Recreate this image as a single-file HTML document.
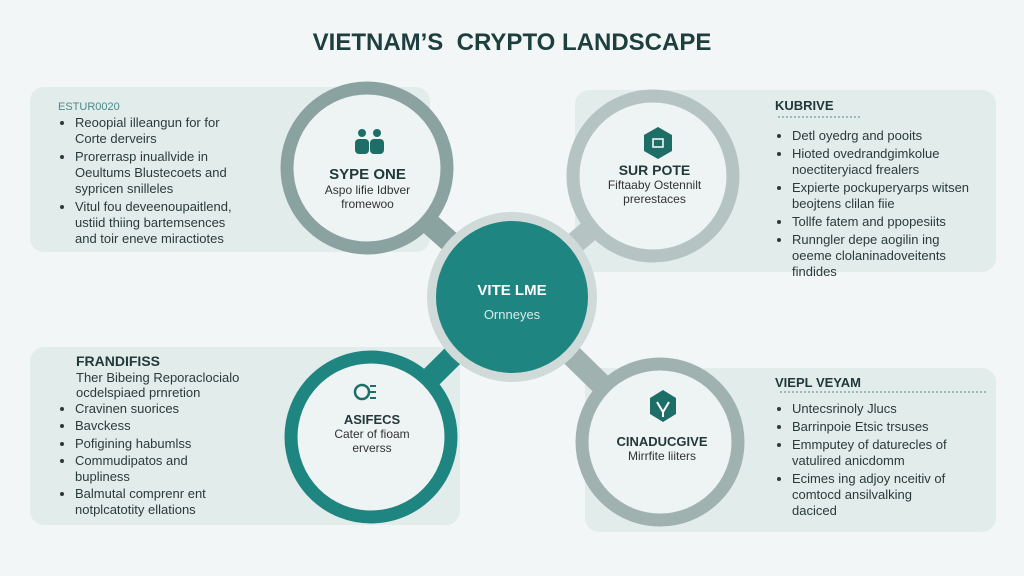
<!DOCTYPE html>
<html><head><meta charset="utf-8"><style>
body{margin:0;width:1024px;height:576px;background:#f3f6f6;font-family:"Liberation Sans",sans-serif;position:relative;overflow:hidden}
.a{position:absolute}
.panel{position:absolute;background:#e2eceb;border-radius:14px}
.t{position:absolute;font-size:13px;color:#2a3a3a;line-height:16px}
ul{margin:0;padding-left:17px}
li{margin-bottom:2px}
.h{font-weight:bold;font-size:14px;color:#213a39}
</style></head><body>
<div class="a" style="left:0;width:1024px;top:29px;text-align:center;font-size:24px;font-weight:bold;color:#1d3f3e">VIETNAM’S&nbsp; CRYPTO LANDSCAPE</div>

<div class="panel" style="left:30px;top:87px;width:400px;height:165px"></div>
<div class="panel" style="left:575px;top:90px;width:421px;height:182px"></div>
<div class="panel" style="left:30px;top:347px;width:430px;height:178px"></div>
<div class="panel" style="left:585px;top:368px;width:411px;height:164px"></div>

<svg class="a" style="left:0;top:0" width="1024" height="576">
<line x1="367" y1="168" x2="512" y2="297" stroke="#8aa3a0" stroke-width="22"/>
<line x1="653" y1="176" x2="512" y2="297" stroke="#b5c4c2" stroke-width="22"/>
<line x1="371" y1="437" x2="512" y2="297" stroke="#1e8580" stroke-width="22"/>
<line x1="660" y1="442" x2="512" y2="297" stroke="#9fb2b0" stroke-width="22"/>
<circle cx="512" cy="297" r="85" fill="#cfdad9"/>
<circle cx="512" cy="297" r="76" fill="#1e8580"/>
<circle cx="367" cy="168" r="80" fill="#eef3f3" stroke="#8aa3a0" stroke-width="13"/>
<circle cx="653" cy="176" r="80" fill="#eef3f3" stroke="#b5c4c2" stroke-width="13"/>
<circle cx="371" cy="437" r="80" fill="#eef3f3" stroke="#1e8580" stroke-width="13"/>
<circle cx="660" cy="442" r="78" fill="#eef3f3" stroke="#9fb2b0" stroke-width="13"/>
<circle cx="362" cy="133" r="4" fill="#1e6e68"/><circle cx="377" cy="133" r="4" fill="#1e6e68"/>
<rect x="355" y="139" width="14" height="15" rx="4" fill="#1e6e68"/><rect x="370" y="139" width="14" height="15" rx="4" fill="#1e6e68"/>
<polygon points="658,127 672,135 672,151 658,159 644,151 644,135" fill="#1e6e68"/>
<rect x="653" y="139" width="10" height="8" fill="none" stroke="#fff" stroke-width="1.5"/>
<polygon points="663,390 676,398 676,414 663,422 650,414 650,398" fill="#1e6e68"/>
<path d="M657,402 L663,412 L669,402 M663,412 V417" stroke="#fff" stroke-width="2" fill="none"/>
<circle cx="362" cy="392" r="7" fill="none" stroke="#1e6e68" stroke-width="2.5"/>
<path d="M370,386 h6 M370,392 h6 M370,398 h6" stroke="#1e6e68" stroke-width="2"/>
<line x1="778" y1="117" x2="860" y2="117" stroke="#4a8a86" stroke-dasharray="2 2"/>
<line x1="780" y1="392" x2="988" y2="392" stroke="#4a8a86" stroke-dasharray="2 2"/>
</svg>

<div class="a" style="left:285px;top:166px;width:165px;text-align:center"><div class="h" style="font-size:15px">SYPE ONE</div><div style="font-size:12px;color:#333">Aspo lifie Idbver<br>fromewoo</div></div>
<div class="a" style="left:572px;top:162px;width:165px;text-align:center"><div class="h">SUR POTE</div><div style="font-size:12px;color:#333">Fiftaaby Ostennilt<br>prerestaces</div></div>
<div class="a" style="left:430px;top:282px;width:164px;text-align:center;color:#fff"><div style="font-weight:bold;font-size:15px">VITE LME</div><div style="font-size:13px;color:#d6ecea;margin-top:8px">Ornneyes</div></div>
<div class="a" style="left:290px;top:412px;width:164px;text-align:center"><div class="h" style="font-size:13px">ASIFECS</div><div style="font-size:12px;color:#333">Cater of fioam<br>erverss</div></div>
<div class="a" style="left:580px;top:434px;width:164px;text-align:center"><div class="h" style="font-size:13px">CINADUCGIVE</div><div style="font-size:12px;color:#333">Mirrfite liiters</div></div>

<div class="t" style="left:58px;top:99px"><div style="font-size:11px;color:#4a8a86">ESTUR0020</div>
<ul><li>Reoopial illeangun for for<br>Corte derveirs</li><li>Prorerrasp inuallvide in<br>Oeultums Blustecoets and<br>sypricen snilleles</li><li>Vitul fou deveenoupaitlend,<br>ustiid thiing bartemsences<br>and toir eneve miractiotes</li></ul></div>

<div class="t" style="left:775px;top:98px"><div class="h" style="font-size:13px">KUBRIVE</div>
<ul style="margin-top:14px"><li>Detl oyedrg and pooits</li><li>Hioted ovedrandgimkolue<br>noectiteryiacd frealers</li><li>Expierte pockuperyarps witsen<br>beojtens clilan fiie</li><li>Tollfe fatem and ppopesiits</li><li>Runngler depe aogilin ing<br>oeeme clolaninadoveitents<br>findides</li></ul></div>

<div class="t" style="left:58px;top:354px;line-height:15.5px"><div class="h" style="padding-left:18px">FRANDIFISS</div>
<div style="padding-left:18px">Ther Bibeing Reporaclocialo<br>ocdelspiaed prnretion</div>
<ul><li>Cravinen suorices</li><li>Bavckess</li><li>Pofigining habumlss</li><li>Commudipatos and<br>bupliness</li><li>Balmutal comprenr ent<br>notplcatotity ellations</li></ul></div>

<div class="t" style="left:775px;top:375px"><div class="h" style="font-size:13px">VIEPL VEYAM</div>
<ul style="margin-top:10px"><li>Untecsrinoly Jlucs</li><li>Barrinpoie Etsic trsuses</li><li>Emmputey of daturecles of<br>vatulired anicdomm</li><li>Ecimes ing adjoy nceitiv of<br>comtocd ansilvalking<br>daciced</li></ul></div>
</body></html>
